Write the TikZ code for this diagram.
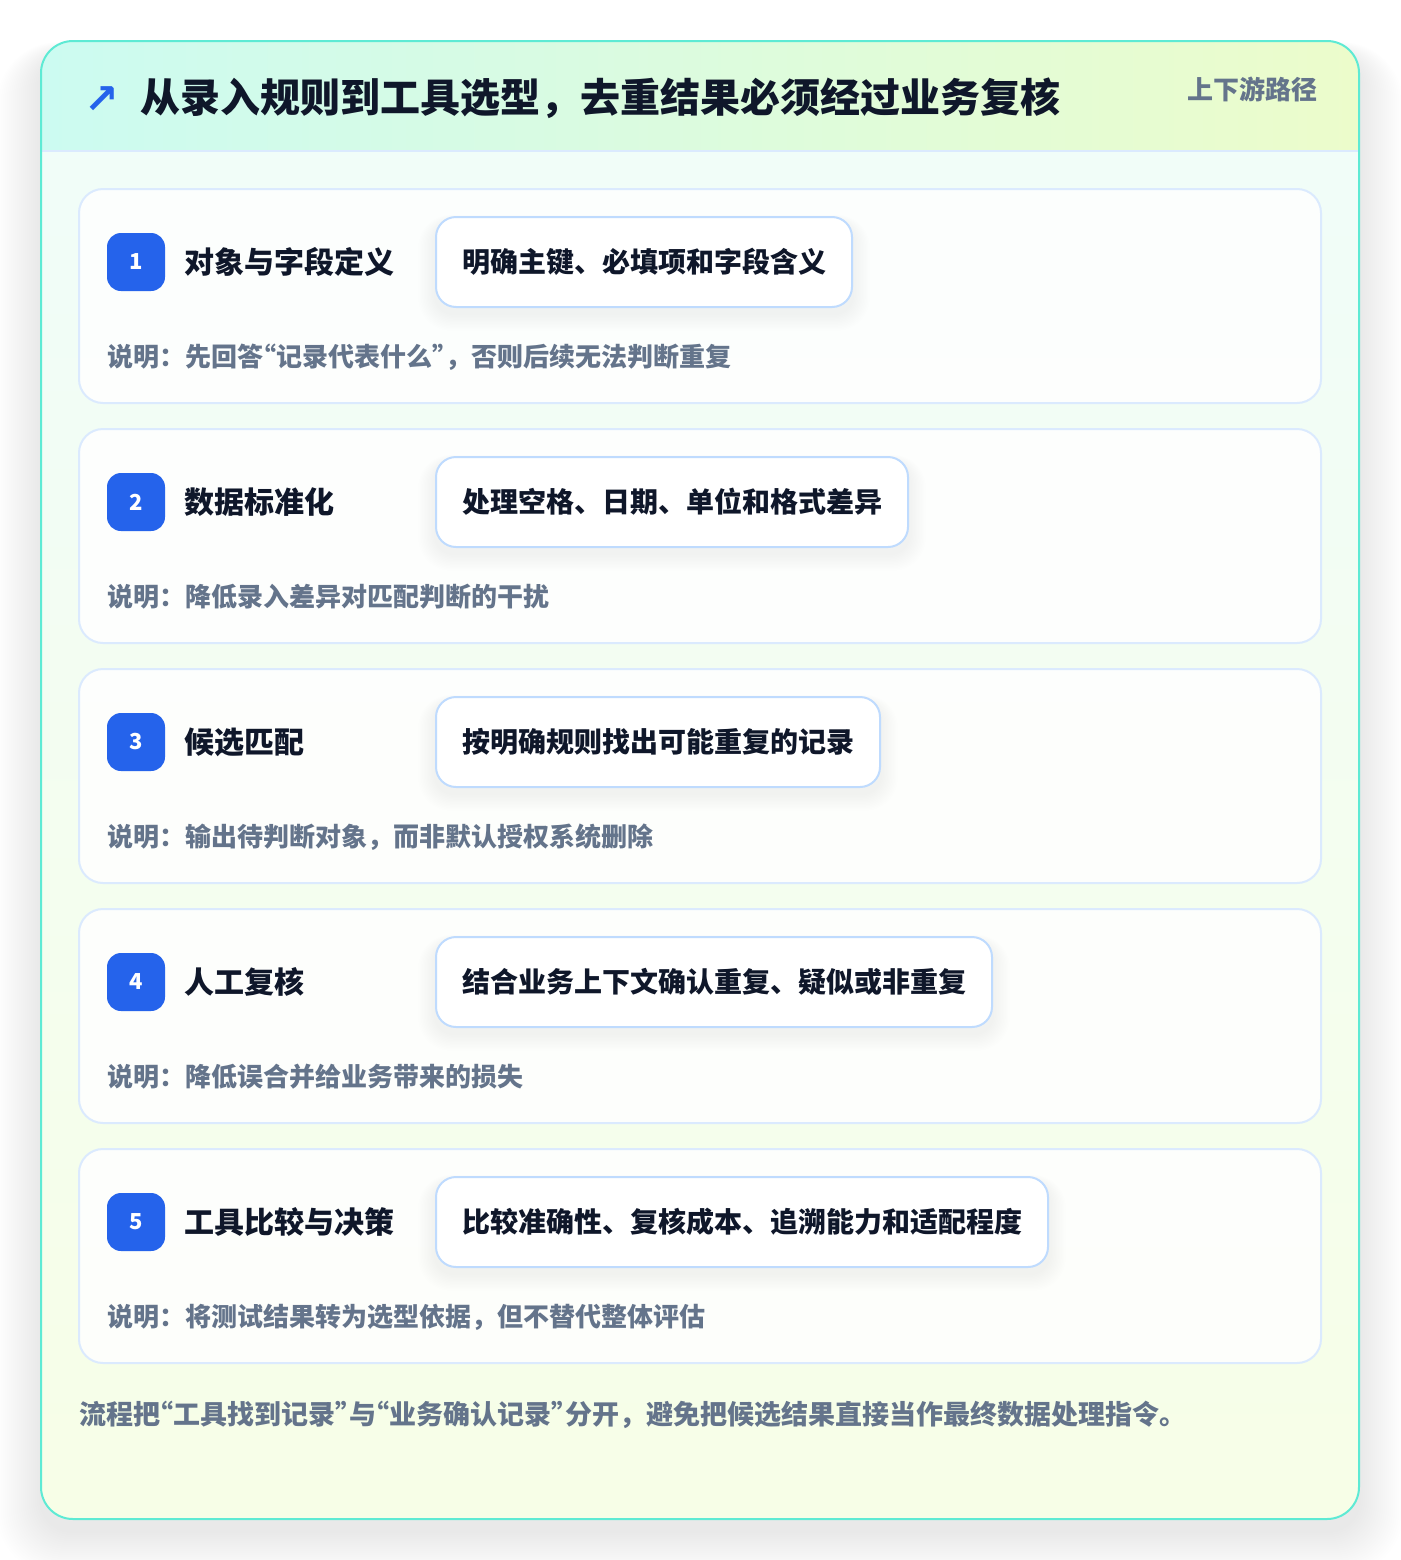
\documentclass[tikz,border=0pt]{standalone}
\usepackage{fontspec}
\setmainfont{Noto Sans CJK SC}
\newfontfamily\heavy{Noto Sans CJK SC Black}
\newfontfamily\dejavu{DejaVu Sans}
\newfontfamily\cjkpalt{Noto Sans CJK SC}[RawFeature=+palt]
\newcommand{\myLq}{{\cjkpalt “}}
\newcommand{\myRq}{{\cjkpalt ”}}
\usetikzlibrary{calc}
\definecolor{cTitle}{HTML}{0F172A}
\definecolor{cMuted}{HTML}{64748B}
\definecolor{cBlue}{HTML}{2563EB}
\definecolor{cCardBorder}{HTML}{DBEAFE}
\definecolor{cPillBorder}{HTML}{BFDBFE}
\definecolor{cTeal}{HTML}{5EEAD4}
\definecolor{cHeadL}{HTML}{CCFBF1}
\definecolor{cHeadR}{HTML}{ECFCCB}
\definecolor{cBodyTop}{HTML}{F0FDFA}
\definecolor{cBodyBot}{HTML}{F7FEE7}
\pgfdeclarelayer{Lzero}
\pgfdeclarelayer{Lone}
\pgfdeclarelayer{Ltwo}
\pgfsetlayers{Lzero,Lone,Ltwo,main}
\tikzset{
  rowcard/.style={draw=cCardBorder, line width=1.5pt, fill=white, fill opacity=0.85, draw opacity=1, rounded corners=18pt},
  badgebox/.style={fill=cBlue, rounded corners=10.5pt, minimum size=43.5pt, inner sep=0pt, text=white, font=\bfseries\fontsize{16.5pt}{18pt}\selectfont},
  rowtitle/.style={anchor=west, inner sep=0pt, text=cTitle, font=\heavy\fontsize{22.5pt}{26pt}\selectfont},
  pillbox/.style={anchor=west, draw=cPillBorder, line width=1.5pt, fill=white, rounded corners=15pt, minimum height=67.5pt, inner xsep=19.5pt, inner ysep=0pt, text=cTitle, font=\bfseries\fontsize{21pt}{24pt}\selectfont},
  desctext/.style={anchor=west, inner sep=0pt, text=cMuted, font=\bfseries\fontsize{19.5pt}{22pt}\selectfont},
}
\begin{document}
\begin{tikzpicture}[x=0.75pt,y=-0.75pt]
\useasboundingbox (0,0) rectangle (1400,1560);
\begin{pgfonlayer}{Lzero}
\fill[white] (0,0) rectangle (1400,1560);
\foreach \i in {1,...,22}{
  \pgfmathsetmacro\rr{24+\i*1.0}
  \fill[black,opacity=0.0035,rounded corners=\rr pt] (41-\i*2,41-\i*0.5+12) rectangle (1359+\i*2,1519+\i*2+12);
}
\begin{scope}
\clip[rounded corners=24pt] (41,41) rectangle (1359,1519);
\shade[top color=cBodyTop, bottom color=cBodyBot] (41,41) rectangle (1359,1519);
\shade[left color=cHeadL, right color=cHeadR] (41,41) rectangle (1359,151);
\draw[cCardBorder, line width=1.5pt] (41,151) -- (1359,151);
\end{scope}
\draw[cTeal, line width=1.5pt, rounded corners=24pt] (41,41) rectangle (1359,1519);
\end{pgfonlayer}

\node[text=cBlue, inner sep=0pt, font=\dejavu\bfseries\fontsize{31pt}{34pt}\selectfont] (arrowicon) at (102,100) {↗};
\node[anchor=west, inner sep=0pt, text=cTitle, font=\heavy\fontsize{30pt}{34pt}\selectfont] (title) at (140,98) {从录入规则到工具选型，去重结果必须经过业务复核};
\node[anchor=east, inner sep=0pt, text=cMuted, font=\bfseries\fontsize{19.5pt}{22pt}\selectfont] (tag) at (1318,89) {上下游路径};

\foreach \k/\n/\t/\p/\d in {
 0/1/对象与字段定义/明确主键、必填项和字段含义/说明：先回答\myLq 记录代表什么\myRq ，否则后续无法判断重复,
 1/2/数据标准化/处理空格、日期、单位和格式差异/说明：降低录入差异对匹配判断的干扰,
 2/3/候选匹配/按明确规则找出可能重复的记录/说明：输出待判断对象，而非默认授权系统删除,
 3/4/人工复核/结合业务上下文确认重复、疑似或非重复/说明：降低误合并给业务带来的损失,
 4/5/工具比较与决策/比较准确性、复核成本、追溯能力和适配程度/说明：将测试结果转为选型依据，但不替代整体评估}{
  \pgfmathsetmacro\top{189+240*\k}
  \begin{pgfonlayer}{Lone}
  \draw[rowcard] (79,\top) rectangle (1321,\top+214);
  \end{pgfonlayer}
  \node[badgebox] (badge\n) at (136,\top+73) {\n};
  \node[rowtitle] (rtitle\n) at (184,\top+73) {\t};
  \node[pillbox] (pill\n) at (435,\top+73) {\p};
  \node[desctext] (desc\n) at (107,\top+168) {\d};
  \begin{pgfonlayer}{Ltwo}
  \foreach \j in {1,...,12}{
    \pgfmathsetmacro\pr{15+\j*0.8}
    \fill[black,opacity=0.0035,rounded corners=\pr pt] ($(pill\n.north west)+(-\j*1.4,-\j*0.6+6)$) rectangle ($(pill\n.south east)+(\j*1.4,\j*1.4+6)$);
  }
  \end{pgfonlayer}
}

\node[anchor=west, inner sep=0pt, text=cMuted, font=\bfseries\fontsize{20.25pt}{23pt}\selectfont] (footer) at (79,1415) {流程把\myLq 工具找到记录\myRq 与\myLq 业务确认记录\myRq 分开，避免把候选结果直接当作最终数据处理指令。};
\end{tikzpicture}
\end{document}
